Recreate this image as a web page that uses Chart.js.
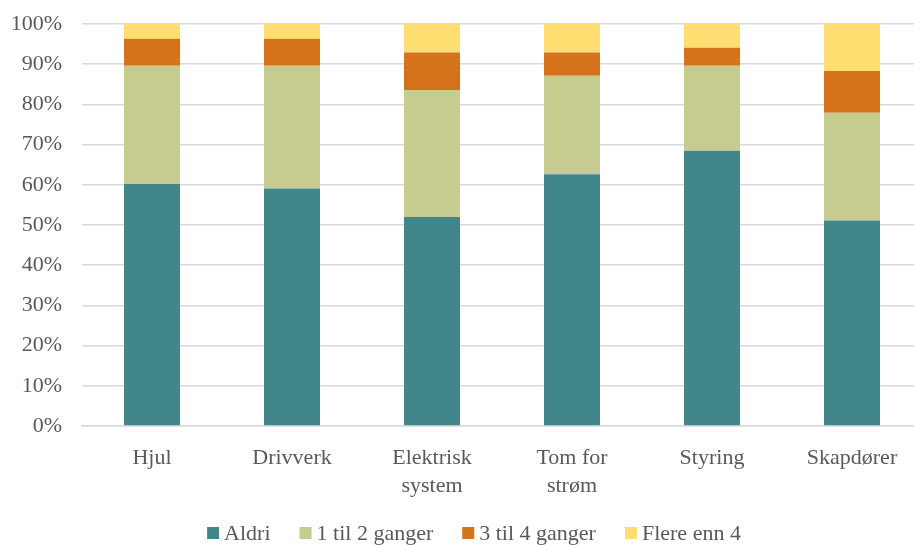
<!DOCTYPE html>
<html>
<head>
<meta charset="utf-8">
<script src="https://cdn.jsdelivr.net/npm/chart.js@4/dist/chart.umd.min.js"></script>
<style>
  html, body { margin: 0; padding: 0; background: #fff; overflow: hidden; }
  #wrap { width: 930px; height: 545px; position: relative; }
</style>
</head>
<body>
<div id="wrap"><canvas id="c"></canvas></div>
<script>
// Kategorier (x-akse)
const categories = ['Hjul', 'Drivverk', ['Elektrisk', 'system'], ['Tom for', 'strøm'], 'Styring', 'Skapdører'];

// Andel svar i prosent per kategori
const aldri        = [60.2, 59.1, 52.0, 62.6, 68.5, 51.1];
const enTilTo      = [29.4, 30.5, 31.6, 24.5, 21.1, 26.8];
const treTilFire   = [ 6.7,  6.7,  9.3,  5.8,  4.5, 10.4];
const flereEnnFire = [ 3.7,  3.7,  7.1,  7.1,  5.9, 11.7];

const seriesNames = ['Aldri', '1 til 2 ganger', '3 til 4 ganger', 'Flere enn 4'];
const yTicks = [0, 10, 20, 30, 40, 50, 60, 70, 80, 90, 100];

const colors = ['#41868a', '#c6cb8f', '#d5731b', '#ffdf71'];
const textColor = '#595959';
const fontFamily = "'Liberation Serif', 'Times New Roman', 'DejaVu Serif', serif";

// Forklaring tegnet under diagrammet
const legendPlugin = {
  id: 'bottomLegend',
  afterDraw(chart) {
    const ctx = chart.ctx;
    const box = 12, gapText = 5, gapItem = 29;
    ctx.save();
    ctx.font = '22px ' + fontFamily;
    ctx.textBaseline = 'middle';
    const items = chart.data.datasets.map(ds => ({
      label: ds.label, color: ds.backgroundColor, w: ctx.measureText(ds.label).width
    }));
    const total = items.reduce((s, it) => s + box + gapText + it.w, 0) + gapItem * (items.length - 1);
    let x = 474 - total / 2;
    const y = chart.height - 12;
    items.forEach(it => {
      ctx.fillStyle = it.color;
      ctx.fillRect(x, y - box / 2, box, box);
      ctx.fillStyle = textColor;
      ctx.fillText(it.label, x + box + gapText, y + 1);
      x += box + gapText + it.w + gapItem;
    });
    ctx.restore();
  }
};

const seriesData = [aldri, enTilTo, treTilFire, flereEnnFire];

new Chart(document.getElementById('c'), {
  type: 'bar',
  data: {
    labels: categories,
    datasets: seriesData.map((d, i) => ({
      label: seriesNames[i],
      data: d,
      backgroundColor: colors[i],
      borderWidth: 0,
      categoryPercentage: 1,
      barPercentage: 0.4
    }))
  },
  options: {
    responsive: true,
    maintainAspectRatio: false,
    animation: false,
    layout: { padding: { top: 24, right: 8, bottom: 36, left: 0 } },
    plugins: {
      legend: { display: false },
      tooltip: { enabled: false }
    },
    scales: {
      x: {
        stacked: true,
        grid: { display: false, drawTicks: false },
        border: { display: true, color: '#d9d9d9', width: 1.5 },
        ticks: {
          color: textColor,
          font: { family: fontFamily, size: 22, lineHeight: 1.27 },
          padding: 18,
          maxRotation: 0,
          autoSkip: false
        },
        afterFit(scale) { scale.height = 545 - 426 - 36; }
      },
      y: {
        stacked: true,
        min: 0,
        max: 100,
        afterBuildTicks(scale) { scale.ticks = yTicks.map(v => ({ value: v })); },
        grid: { color: '#d9d9d9', lineWidth: 1.5, drawTicks: false },
        border: { display: false },
        ticks: {
          color: textColor,
          font: { family: fontFamily, size: 22 },
          padding: 20,
          callback: v => v + '%'
        },
        afterFit(scale) {
          scale.width = 82;
          scale.paddingTop = 0;
          scale.paddingBottom = 0;
        }
      }
    }
  },
  plugins: [legendPlugin]
});
</script>
</body>
</html>
